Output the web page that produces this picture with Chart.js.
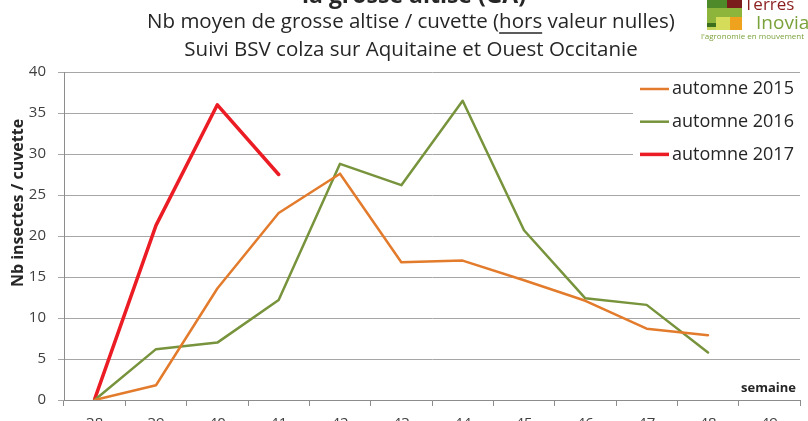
<!DOCTYPE html>
<html>
<head>
<meta charset="utf-8">
<script src="https://cdn.jsdelivr.net/npm/chart.js@4.4.0/dist/chart.umd.min.js"></script>
<style>
  html, body { margin: 0; padding: 0; background: #fff; }
  #wrap { width: 808px; height: 421px; overflow: hidden; }
</style>
</head>
<body>
<div id="wrap"><canvas id="chart" width="808" height="421"></canvas></div>
<script>
// semaines
const weeks = ['38', '39', '40', '41', '42', '43', '44', '45', '46', '47', '48', '49'];
// nb moyen de grosse altise / cuvette
const autumn2015 = [0, 1.8, 13.6, 22.8, 27.6, 16.8, 17.0, 14.6, 12.1, 8.7, 7.9, null];
const autumn2016 = [0, 6.2, 7.0, 12.2, 28.8, 26.2, 36.5, 20.7, 12.4, 11.6, 5.8, null];
const autumn2017 = [0.1, 21.3, 36.0, 27.5, null, null, null, null, null, null, null, null];
const seriesNames = ['automne 2015', 'automne 2016', 'automne 2017'];
const yMin = 0, yMax = 40, yStep = 5;

const FONT = "'Open Sans', sans-serif";
const TXT = '#262626';

const headerPlugin = {
    id: 'header',
    afterDraw(chart) {
        const ctx = chart.ctx;
        ctx.save();
        ctx.fillStyle = TXT;
        ctx.textAlign = 'center';
        ctx.textBaseline = 'alphabetic';
        // first line, cut off at the top of the picture
        ctx.font = 'bold 23px ' + FONT;
        ctx.fillText('la grosse altise (GA)', 414, 3);
        ctx.font = '20.5px ' + FONT;
        const line1 = 'Nb moyen de grosse altise / cuvette (hors valeur nulles)';
        ctx.textBaseline = 'middle';
        ctx.fillText(line1, 411, 22);
        ctx.fillText('Suivi BSV colza sur Aquitaine et Ouest Occitanie', 411, 50);
        // underline "hors"
        const full = ctx.measureText(line1).width;
        const pre = ctx.measureText('Nb moyen de grosse altise / cuvette (').width;
        const w = ctx.measureText('hors').width;
        const x0 = 411 - full / 2 + pre;
        ctx.strokeStyle = TXT;
        ctx.lineWidth = 1.3;
        ctx.beginPath();
        ctx.moveTo(x0, 33);
        ctx.lineTo(x0 + w, 33);
        ctx.stroke();

        // y axis title
        ctx.save();
        ctx.translate(18, 203);
        ctx.rotate(-Math.PI / 2);
        ctx.font = 'bold 16px ' + FONT;
        ctx.fillText('Nb insectes / cuvette', 0, 0);
        ctx.restore();

        // x axis title inside the plot
        ctx.textAlign = 'right';
        ctx.font = 'bold 13px ' + FONT;
        ctx.fillText('semaine', 796, 388);

        // logo
        const blocks = [
            [707, 0, 20, 8, '#4f8a2a'], [727, 0, 15, 8, '#7b1c1c'],
            [707, 8, 35, 9, '#8db53c'],
            [707, 17, 9, 6, '#8db53c'], [716, 17, 14, 13, '#d4dc5a'], [730, 17, 12, 13, '#eea21e'],
            [707, 23, 9, 4, '#3d6e1e'], [707, 27, 9, 3, '#c4d45a']
        ];
        blocks.forEach(b => { ctx.fillStyle = b[4]; ctx.fillRect(b[0], b[1], b[2], b[3]); });
        ctx.textAlign = 'left';
        ctx.textBaseline = 'alphabetic';
        ctx.fillStyle = '#8b1e1e';
        ctx.font = '17px ' + FONT;
        ctx.fillText('Terres', 744, 10);
        ctx.fillStyle = '#7aa23a';
        ctx.font = '19px ' + FONT;
        ctx.fillText('Inovia', 756, 29);
        ctx.font = '8px ' + FONT;
        ctx.fillText("l'agronomie en mouvement", 701, 39);
        ctx.restore();
    }
};

const legendPlugin = {
    id: 'insideLegend',
    afterDatasetsDraw(chart) {
        const ctx = chart.ctx;
        ctx.save();
        ctx.fillStyle = '#fff';
        ctx.fillRect(633, 75, 167, 95);
        ctx.font = '18px ' + FONT;
        ctx.textBaseline = 'middle';
        chart.data.datasets.forEach((ds, i) => {
            const y = 89 + i * 32.7;
            ctx.strokeStyle = ds.borderColor;
            ctx.lineWidth = ds.borderWidth;
            ctx.beginPath();
            ctx.moveTo(640, y);
            ctx.lineTo(669, y);
            ctx.stroke();
            ctx.fillStyle = TXT;
            ctx.fillText(ds.label, 672, y);
        });
        ctx.restore();
    }
};

const ctx = document.getElementById('chart').getContext('2d');
const chart = new Chart(ctx, {
    type: 'line',
    data: {
        labels: weeks,
        datasets: [
            { label: seriesNames[0], data: autumn2015, borderColor: '#e37b2c', borderWidth: 2.5 },
            { label: seriesNames[1], data: autumn2016, borderColor: '#77933c', borderWidth: 2.5 },
            { label: seriesNames[2], data: autumn2017, borderColor: '#ec1c24', borderWidth: 3.5 }
        ]
    },
    options: {
        responsive: false,
        animation: false,
        devicePixelRatio: 1,
        layout: { padding: { top: 72, right: 8, left: 0, bottom: 0 } },
        elements: { point: { radius: 0 }, line: { tension: 0, borderCapStyle: 'round', borderJoinStyle: 'round' } },
        plugins: { legend: { display: false }, tooltip: { enabled: false }, title: { display: false } },
        scales: {
            x: {
                offset: true,
                grid: { offset: true, drawOnChartArea: false, drawTicks: true, tickLength: 6, color: '#8c8c8c' },
                border: { color: '#8c8c8c' },
                ticks: { font: { family: FONT, size: 15 }, color: '#404040', padding: 9, maxRotation: 0, autoSkip: false },
                afterFit: s => { s.height = 21; }
            },
            y: {
                min: yMin, max: yMax,
                grid: { color: '#a6a6a6', tickLength: 6 },
                border: { color: '#8c8c8c' },
                ticks: { stepSize: yStep, font: { family: FONT, size: 15 }, color: '#404040', padding: 12 },
                afterFit: s => { s.width = 64; }
            }
        }
    },
    plugins: [legendPlugin, headerPlugin]
});
</script>
</body>
</html>
